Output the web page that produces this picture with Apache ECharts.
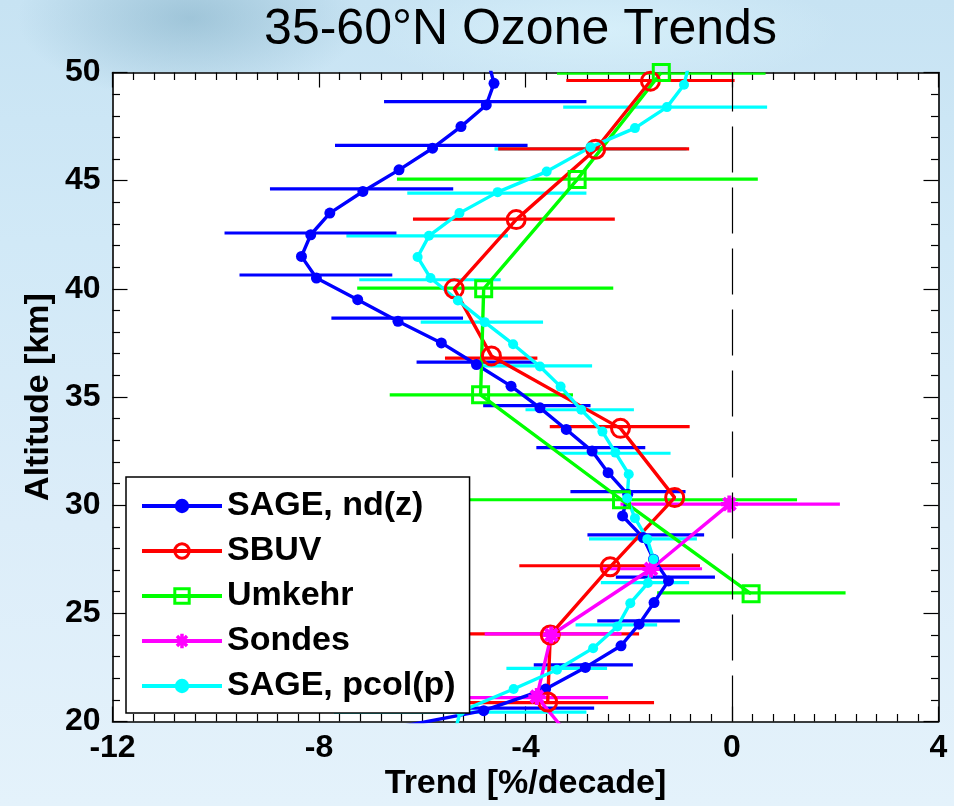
<!DOCTYPE html>
<html>
<head>
<meta charset="utf-8">
<title>35-60°N Ozone Trends</title>
<script src="https://cdn.jsdelivr.net/npm/echarts/dist/echarts.min.js"></script>
<style>
  html, body { margin: 0; padding: 0; }
  body {
    width: 954px; height: 806px; overflow: hidden;
    background:
      radial-gradient(ellipse 230px 110px at 190px 18px, rgba(110,160,185,0.45), rgba(110,160,185,0) 75%),
      radial-gradient(ellipse 320px 80px at 600px 30px, rgba(225,248,255,0.55), rgba(225,248,255,0) 75%),
      linear-gradient(180deg, #c7e3f3 0%, #d1e9f7 30%, #dcedf9 65%, #e4f2fb 100%);
  }
  #chart { width: 954px; height: 806px; }
</style>
</head>
<body>
<div id="chart"></div>
<script>
// ---- Trend profiles: altitude (km) and trend (%/decade) ----
const sageNdAlt   = [50.5, 49.5, 48.5, 47.5, 46.5, 45.5, 44.5, 43.5, 42.5, 41.5, 40.5, 39.5, 38.5, 37.5, 36.5, 35.5,
                     34.5, 33.5, 32.5, 31.5, 30.5, 29.5, 28.5, 27.5, 26.5, 25.5, 24.5, 23.5, 22.5, 21.5, 20.5, 19.5];
const sageNdTrend = [-4.72, -4.61, -4.76, -5.25, -5.80, -6.45, -7.15, -7.79, -8.16, -8.34, -8.05, -7.25, -6.47, -5.63, -4.95, -4.28,
                     -3.72, -3.21, -2.71, -2.40, -2.02, -2.12, -1.72, -1.52, -1.23, -1.51, -1.80, -2.15, -2.84, -3.61, -4.81, -7.00];

const sbuvAlt   = [49.6, 46.45, 43.2, 40.0, 36.9, 33.55, 30.35, 27.15, 24.0, 20.9];
const sbuvTrend = [-1.58, -2.64, -4.18, -5.38, -4.66, -2.16, -1.11, -2.36, -3.52, -3.57];

const umkehrAlt   = [50.0, 45.05, 40.0, 35.1, 30.25, 25.9];
const umkehrTrend = [-1.37, -3.00, -4.81, -4.87, -2.14, 0.37];

const sondesAlt   = [30.05, 27.05, 24.0, 21.15, 18.0];
const sondesTrend = [-0.05, -1.57, -3.50, -3.78, -2.70];

const sagePcolAlt   = [50.4, 49.43, 48.4, 47.43, 46.55, 45.42, 44.47, 43.5, 42.45, 41.47, 40.5, 39.46, 38.46, 37.44, 36.41, 35.48,
                       34.41, 33.4, 32.43, 31.43, 30.32, 29.4, 28.43, 27.5, 26.4, 25.47, 24.39, 23.39, 22.39, 21.5, 20.46, 19.45];
const sagePcolTrend = [-0.83, -0.93, -1.26, -1.88, -2.74, -3.59, -4.54, -5.28, -5.87, -6.09, -5.84, -5.31, -4.79, -4.24, -3.72, -3.32,
                       -2.92, -2.51, -2.26, -2.00, -2.03, -1.88, -1.64, -1.52, -1.63, -1.97, -2.22, -2.69, -3.39, -4.23, -5.26, -5.38];

// ---- Uncertainty ranges: altitude, lower and upper trend ----
const sageNdErrAlt = [48.65, 46.63, 44.62, 42.58, 40.64, 38.65, 36.61, 34.60, 32.66, 30.63, 28.63, 26.67, 24.65, 22.62, 20.62];
const sageNdErrLo  = [-6.74, -7.69, -8.95, -9.83, -9.54, -7.76, -6.11, -4.82, -3.79, -3.13, -2.80, -2.25, -2.61, -3.84, -6.97];
const sageNdErrHi  = [-2.82, -3.96, -5.40, -6.50, -6.58, -5.21, -3.81, -2.74, -1.68, -0.90, -0.54, -0.33, -1.01, -1.92, -2.67];

const sbuvErrAlt = [49.63, 46.47, 43.22, 36.8, 33.63, 27.2, 24.05, 20.87];
const sbuvErrLo  = [-3.21, -4.53, -6.18, -5.56, -3.53, -4.12, -5.26, -5.63];
const sbuvErrHi  = [0.05, -0.83, -2.27, -3.77, -0.82, -0.62, -1.80, -1.51];

const umkehrErrAlt = [49.97, 45.07, 40.03, 35.1, 30.25, 25.95];
const umkehrErrLo  = [-3.39, -6.49, -7.26, -6.63, -5.46, -1.45];
const umkehrErrHi  = [0.65, 0.50, -2.30, -3.08, 1.26, 2.20];

const sondesErrAlt = [30.05, 27.06, 24.05, 21.1];
const sondesErrLo  = [-2.16, -2.56, -4.79, -5.16];
const sondesErrHi  = [2.09, -0.58, -2.14, -2.40];

const sagePcolErrAlt = [48.4, 46.47, 44.42, 42.45, 40.42, 38.46, 36.44, 34.41, 32.4, 28.44, 26.42, 24.47, 22.46, 20.43];
const sagePcolErrLo  = [-3.27, -4.60, -6.29, -7.47, -7.22, -6.03, -4.85, -4.00, -3.37, -2.77, -2.54, -3.03, -4.37, -7.71];
const sagePcolErrHi  = [0.68, -0.88, -2.82, -4.34, -4.48, -3.66, -2.71, -1.90, -1.19, -0.68, -0.83, -1.45, -2.42, -2.82];

// ---- Axis ticks ----
const trendTicks = [-12, -8, -4, 0, 4];
const altTicks   = [20, 25, 30, 35, 40, 45, 50];

const FONT = "'Liberation Sans', Arial, Helvetica, sans-serif";
const NAMES = ['SAGE, nd(z)', 'SBUV', 'Umkehr', 'Sondes', 'SAGE, pcol(p)'];
const COLORS = ['#0000ff', '#ff0000', '#00ff00', '#ff00ff', '#00ffff'];
// eight-armed asterisk marker for the sonde profile
const ASTERISK = 'path://M-1.7,-7L1.7,-7L1.7,7L-1.7,7Z M-7,-1.7L7,-1.7L7,1.7L-7,1.7Z ' +
                 'M-3.7,-6.1L6.1,3.7L3.7,6.1L-6.1,-3.7Z M6.1,-3.7L-3.7,6.1L-6.1,3.7L3.7,-6.1Z';

function pairs(alt, val) { return alt.map((a, i) => [val[i], a]); }
function ranges(alt, lo, hi) { return alt.map((a, i) => [a, lo[i], hi[i]]); }

function errorSeries(name, color, alt, lo, hi) {
  return {
    type: 'custom', name: name + ' range', clip: true, silent: true, animation: false,
    data: ranges(alt, lo, hi),
    encode: { x: [1, 2], y: 0 },
    renderItem: function (params, api) {
      const a = api.coord([api.value(1), api.value(0)]);
      const b = api.coord([api.value(2), api.value(0)]);
      return { type: 'line', shape: { x1: a[0], y1: a[1], x2: b[0], y2: b[1] },
               style: { stroke: color, lineWidth: 3.2, lineCap: 'butt' } };
    }
  };
}

function profileSeries(name, color, alt, val, symbol, size, hollow, clip) {
  return {
    type: 'line', name: name, data: pairs(alt, val), clip: clip, animation: false, silent: true,
    symbol: symbol, symbolSize: size, showSymbol: true,
    lineStyle: { color: color, width: 3.4 },
    itemStyle: hollow ? { color: 'rgba(255,255,255,0)', borderColor: color, borderWidth: 3 }
                      : { color: color, borderWidth: 0 }
  };
}

const tickLabel = v => (v < 0 ? '-' + Math.abs(v) : String(v));

function xAxisDef(pos, labels) {
  return {
    type: 'value', position: pos, min: trendTicks[0], max: trendTicks[trendTicks.length - 1], interval: 4,
    name: labels ? 'Trend [%/decade]' : '', nameLocation: 'middle', nameGap: 45, nameMoveOverlap: false,
    nameTextStyle: { fontFamily: FONT, fontSize: 34, fontWeight: 'bold', color: '#000' },
    axisLine: { show: true, onZero: false, lineStyle: { color: '#000', width: 1.6 } },
    axisTick: { show: true, inside: true, length: 15, lineStyle: { color: '#000', width: 1.2 } },
    minorTick: { show: true, splitNumber: 10, length: 7.5, lineStyle: { color: '#000', width: 1.2 } },
    axisLabel: { show: labels, margin: 11, formatter: tickLabel, fontFamily: FONT, fontSize: 32, fontWeight: 'bold', color: '#000' },
    splitLine: { show: false }, minorSplitLine: { show: false }
  };
}

function yAxisDef(pos, labels) {
  return {
    type: 'value', position: pos, min: altTicks[0], max: altTicks[altTicks.length - 1], interval: 5,
    name: labels ? 'Altitude [km]' : '', nameLocation: 'middle', nameGap: 57, nameMoveOverlap: false,
    nameTextStyle: { fontFamily: FONT, fontSize: 34, fontWeight: 'bold', color: '#000' },
    axisLine: { show: true, onZero: false, lineStyle: { color: '#000', width: 1.6 } },
    axisTick: { show: true, inside: true, length: 15, lineStyle: { color: '#000', width: 1.2 } },
    minorTick: { show: true, splitNumber: 5, length: 7.5, lineStyle: { color: '#000', width: 1.2 } },
    axisLabel: { show: labels, margin: 12, fontFamily: FONT, fontSize: 32, fontWeight: 'bold', color: '#000' },
    splitLine: { show: false }, minorSplitLine: { show: false }
  };
}

const chart = echarts.init(document.getElementById('chart'), null, { renderer: 'canvas' });

const zeroLine = {
  silent: true, animation: false, symbol: ['none', 'none'],
  label: { show: false },
  lineStyle: { color: '#000', width: 1.2, type: [46, 15] },
  emphasis: { disabled: true },
  data: [{ xAxis: 0 }]
};

const cyanLine = profileSeries(NAMES[4], COLORS[4], sagePcolAlt, sagePcolTrend, 'circle', 10, false, true);
cyanLine.markLine = zeroLine;

chart.setOption({
  backgroundColor: 'transparent',
  animation: false,
  grid: {
    left: 112.5, top: 72.5, right: 15.5, bottom: 84.5,
    show: true, backgroundColor: '#ffffff', borderWidth: 0,
    outerBoundsMode: 'none', containLabel: false
  },
  xAxis: [xAxisDef('bottom', true), xAxisDef('top', false)],
  yAxis: [yAxisDef('left', true), yAxisDef('right', false)],
  graphic: [{
    type: 'text', x: 520.5, y: 30, silent: true,
    style: { text: '35-60°N Ozone Trends', fill: '#000', font: 'normal 50px ' + FONT, align: 'center', verticalAlign: 'middle' }
  }],
  legend: {
    data: NAMES, orient: 'vertical', left: 126, top: 477,
    padding: [12, 14, 10, 14], itemWidth: 80, itemHeight: 18, itemGap: 11,
    backgroundColor: '#ffffff', borderColor: '#000', borderWidth: 1.5, borderRadius: 0,
    selectedMode: false, z: 10,
    lineStyle: { width: 4 },
    itemStyle: { borderWidth: 3 },
    textStyle: { fontFamily: FONT, fontSize: 34, fontWeight: 'bold', color: '#000', lineHeight: 34 }
  },
  series: [
    errorSeries(NAMES[4], COLORS[4], sagePcolErrAlt, sagePcolErrLo, sagePcolErrHi),
    errorSeries(NAMES[0], COLORS[0], sageNdErrAlt, sageNdErrLo, sageNdErrHi),
    errorSeries(NAMES[1], COLORS[1], sbuvErrAlt, sbuvErrLo, sbuvErrHi),
    errorSeries(NAMES[2], COLORS[2], umkehrErrAlt, umkehrErrLo, umkehrErrHi),
    errorSeries(NAMES[3], COLORS[3], sondesErrAlt, sondesErrLo, sondesErrHi),
    profileSeries(NAMES[0], COLORS[0], sageNdAlt, sageNdTrend, 'circle', 11, false, true),
    profileSeries(NAMES[1], COLORS[1], sbuvAlt, sbuvTrend, 'circle', 18, true, true),
    profileSeries(NAMES[2], COLORS[2], umkehrAlt, umkehrTrend, 'rect', 16, true, false),
    profileSeries(NAMES[3], COLORS[3], sondesAlt, sondesTrend, ASTERISK, 17, false, true),
    cyanLine
  ]
});
</script>
</body>
</html>
